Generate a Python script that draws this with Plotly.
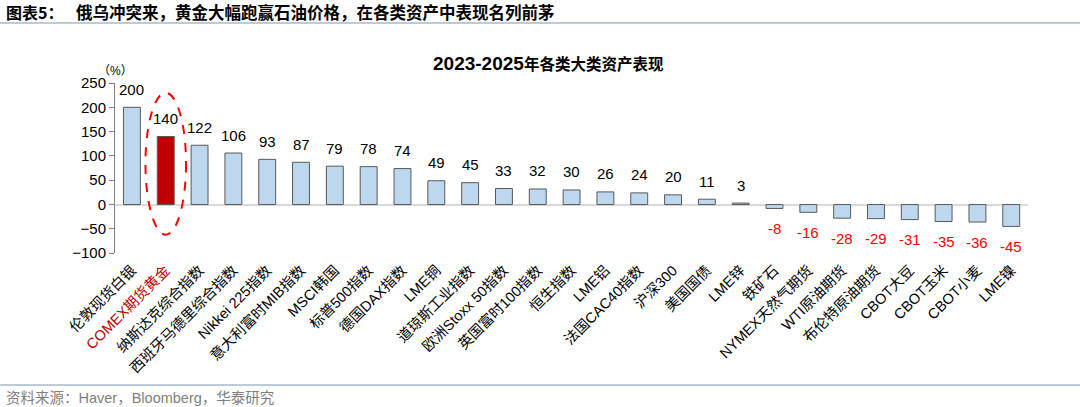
import plotly.graph_objects as go

# 2023-2025 各类大类资产表现 (%)
assets = ["伦敦现货白银", "COMEX期货黄金", "纳斯达克综合指数", "西班牙马德里综合指数",
          "Nikkei 225指数", "意大利富时MIB指数", "MSCI韩国", "标普500指数", "德国DAX指数",
          "LME铜", "道琼斯工业指数", "欧洲Stoxx 50指数", "英国富时100指数", "恒生指数",
          "LME铝", "法国CAC40指数", "沪深300", "美国国债", "LME锌", "铁矿石",
          "NYMEX天然气期货", "WTI原油期货", "布伦特原油期货", "CBOT大豆", "CBOT玉米",
          "CBOT小麦", "LME镍"]
returns = [200, 140, 122, 106, 93, 87, 79, 78, 74, 49, 45, 33, 32, 30, 26, 24, 20, 11, 3,
           -8, -16, -28, -29, -31, -35, -36, -45]
highlight = "COMEX期货黄金"
y_ticks = [250, 200, 150, 100, 50, 0, -50, -100]

cjk = "Liberation Sans, Arial, Noto Sans CJK SC"

bar_colors = ["#C00000" if a == highlight else "#BDD7EE" for a in assets]
tick_text = ["<span style='color:#C00000'>%s</span>" % a if a == highlight else a for a in assets]

fig = go.Figure()
fig.add_trace(go.Bar(
    x=assets, y=returns,
    marker=dict(color=bar_colors, line=dict(color="#595959", width=1)),
    width=0.5,
    cliponaxis=False,
))

# value labels: black above positive bars, red below negative ones
for a, v in zip(assets, returns):
    fig.add_annotation(x=a, y=v, text=str(v), showarrow=False, yanchor="middle",
                       yshift=18 if v >= 0 else -20,
                       font=dict(size=15, family=cjk,
                                 color="#FF0000" if v < 0 else "#000000"))

# red dashed ellipse around the gold bar
hi = assets.index(highlight)
fig.add_shape(type="circle", xref="x", yref="y",
              x0=hi - 0.6, x1=hi + 0.6, y0=-62, y1=230,
              line=dict(color="#FF0000", width=2, dash="dash"))

fig.update_layout(
    width=1080, height=407,
    margin=dict(l=0, r=0, t=0, b=0),
    paper_bgcolor="white", plot_bgcolor="white",
    showlegend=False,
    font=dict(family=cjk, color="#000000"),
    xaxis=dict(domain=[0.1065, 0.952], tickvals=assets, ticktext=tick_text,
               tickangle=-45, tickfont=dict(size=14.5, family=cjk), automargin=False,
               ticklabelstandoff=5, showline=False, ticks="", showgrid=False),
    yaxis=dict(domain=[0.378, 0.796], range=[-100, 250], tickvals=y_ticks,
               showgrid=False, showline=True, linecolor="#808080", linewidth=1,
               ticks="outside", ticklen=5, tickcolor="#808080", automargin=False,
               tickfont=dict(size=15), zeroline=True, zerolinecolor="#D9D9D9",
               zerolinewidth=1.5),
)

# header, title, unit, source
fig.add_annotation(x=4 / 1080, y=1 - 12 / 407, xref="paper", yref="paper", xanchor="left",
                   yanchor="middle", showarrow=False, text="<b>图表5：</b>",
                   font=dict(size=16, family="Noto Sans CJK SC", color="#000000"))
fig.add_annotation(x=74 / 1080, y=1 - 12 / 407, xref="paper", yref="paper", xanchor="left",
                   yanchor="middle", showarrow=False,
                   text="<b>俄乌冲突来，黄金大幅跑赢石油价格，在各类资产中表现名列前茅</b>",
                   font=dict(size=16.5, family="Noto Sans CJK SC", color="#000000"))
fig.add_shape(type="line", xref="paper", yref="paper", x0=0, x1=1,
              y0=1 - 23 / 407, y1=1 - 23 / 407, line=dict(color="#A6B8CC", width=1.5))
fig.add_annotation(x=548 / 1080, y=1 - 51 / 407, xref="paper", yref="paper",
                   showarrow=False,
                   text="<b><span style='font-size:19px'>2023-2025</span>年各类大类资产表现</b>",
                   font=dict(size=15.5, family=cjk))
fig.add_annotation(x=96 / 1080, y=1 - 62 / 407, xref="paper", yref="paper",
                   showarrow=False, text="（%）", font=dict(size=12, family=cjk))
fig.add_shape(type="line", xref="paper", yref="paper", x0=0, x1=1,
              y0=1 - 385 / 407, y1=1 - 385 / 407, line=dict(color="#A6B8CC", width=1.5))
fig.add_annotation(x=4 / 1080, y=1 - 398 / 407, xref="paper", yref="paper", xanchor="left",
                   yanchor="middle", showarrow=False,
                   text="资料来源：Haver，Bloomberg，华泰研究",
                   font=dict(size=14.5, family=cjk, color="#7F7F7F"))

# drop the browser's default body margin so the figure sits at the page corner
fig.write_html("out.html", config={"displayModeBar": False},
               post_script="document.body.style.margin='0';")
